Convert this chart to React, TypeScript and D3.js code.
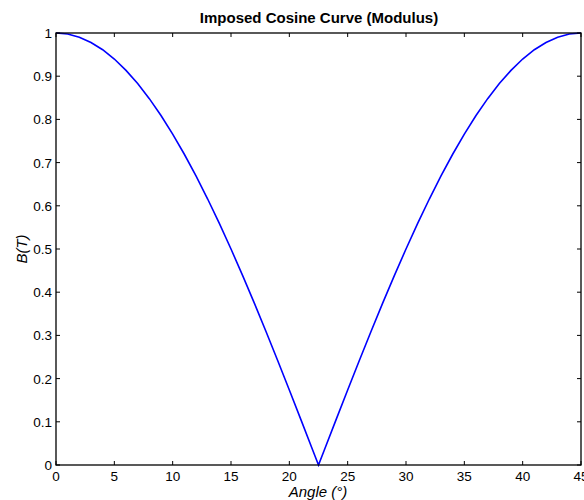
import React from "react";
import * as d3 from "d3";

const angles = [0,1,2,3,4,5,6,7,8,9,10,11,12,13,14,15,16,17,18,19,20,21,22,22.5,23,24,25,26,27,28,29,30,31,32,33,34,35,36,37,38,39,40,41,42,43,44,45];
const bValues = [1,0.9976,0.9903,0.9781,0.9613,0.9397,0.9135,0.8829,0.848,0.809,0.766,0.7193,0.6691,0.6157,0.5592,0.5,0.4384,0.3746,0.309,0.2419,0.1736,0.1045,0.0349,0,0.0349,0.1045,0.1736,0.2419,0.309,0.3746,0.4384,0.5,0.5592,0.6157,0.6691,0.7193,0.766,0.809,0.848,0.8829,0.9135,0.9397,0.9613,0.9781,0.9903,0.9976,1];
const xTicks = [0,5,10,15,20,25,30,35,40,45];
const yTicks = [0,0.1,0.2,0.3,0.4,0.5,0.6,0.7,0.8,0.9,1];
const title = "Imposed Cosine Curve (Modulus)";
const xLabel = "Angle (°)";
const yLabel = "B(T)";

export default function App() {
  const W = 584, H = 500;
  const L = 56, R = 581, T = 33, B = 465;
  const x = d3.scaleLinear().domain([0, 45]).range([L, R]);
  const y = d3.scaleLinear().domain([0, 1]).range([B, T]);
  const line = d3.line<number>().x((_, i) => x(angles[i])).y((d) => y(d));
  const font = "Liberation Sans, Arial, sans-serif";
  const tk = 4;
  return (
    <svg width={W} height={H} style={{ position: "absolute", left: 0, top: 0, background: "#fff" }}>
      <rect x={0} y={0} width={W} height={H} fill="#fff" />
      <path d={line(bValues) || ""} fill="none" stroke="#0000ff" strokeWidth={1.6} />
      <rect x={L} y={T} width={R - L} height={B - T} fill="none" stroke="#000" strokeWidth={1.3} />
      {xTicks.map((t) => (
        <g key={"x" + t}>
          <line x1={x(t)} x2={x(t)} y1={B} y2={B - tk} stroke="#000" />
          <line x1={x(t)} x2={x(t)} y1={T} y2={T + tk} stroke="#000" />
          <text x={x(t)} y={481} fontSize={13.5} fontFamily={font} textAnchor="middle">{t}</text>
        </g>
      ))}
      {yTicks.map((t) => (
        <g key={"y" + t}>
          <line x1={L} x2={L + tk} y1={y(t)} y2={y(t)} stroke="#000" />
          <line x1={R} x2={R - tk} y1={y(t)} y2={y(t)} stroke="#000" />
          <text x={52} y={y(t) + 5} fontSize={13.5} fontFamily={font} textAnchor="end">{t}</text>
        </g>
      ))}
      <text x={319} y={23} fontSize={15} fontWeight="bold" fontFamily={font} textAnchor="middle">{title}</text>
      <text x={318} y={497} fontSize={15} fontStyle="italic" fontFamily={font} textAnchor="middle">{xLabel}</text>
      <text transform={`translate(27,249) rotate(-90)`} fontSize={15} fontStyle="italic" fontFamily={font} textAnchor="middle">{yLabel}</text>
    </svg>
  );
}
